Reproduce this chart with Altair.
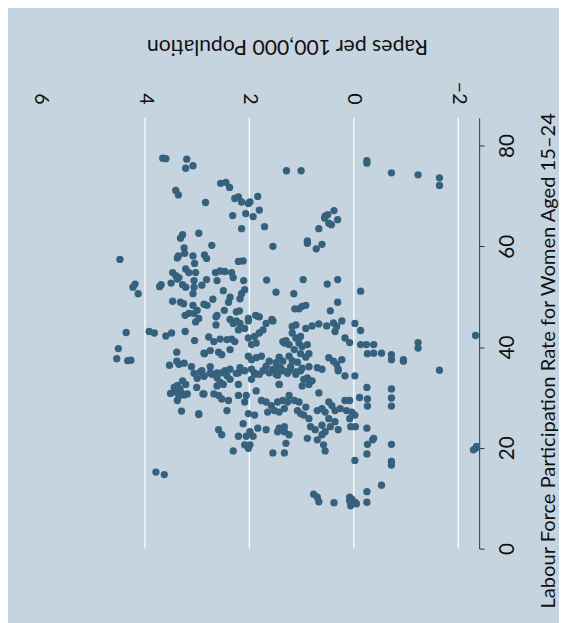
import altair as alt
import pandas as pd

# Each pair: (rapes per 100,000 population, labour force participation rate for women aged 15-24)
upper_cluster = [
    (3.66,77.5),(3.60,77.4),(3.20,77.3),(3.08,76.0),(3.22,75.5),(1.29,75.0),
    (2.55,72.5),(2.45,72.7),(2.38,71.7),(3.41,71.1),(3.36,70.2),(2.84,68.7),
    (2.28,69.5),(2.21,69.8),(2.15,68.8),(2.02,68.5),(1.99,68.8),(1.84,69.9),
    (2.07,66.5),(1.93,65.9),(1.81,67.2),(2.32,66.1),(2.15,63.5),(1.71,63.9),(1.55,60.0),
    (4.48,57.4),(4.19,52.5),(4.23,51.9),(4.13,50.6),
    (3.28,62.3),(3.32,61.6),(2.97,62.6),(3.25,59.7),(3.24,58.6),(2.72,60.2),
    (3.38,57.7),(3.36,58.1),(3.08,58.1),(3.05,56.6),(2.86,58.3),(2.82,57.6),(2.21,57.0),(2.12,57.1),
    (3.47,54.8),(3.41,54.2),(3.35,53.8),(3.22,55.5),(3.16,54.8),(3.03,54.8),
    (2.65,54.8),(2.56,55.1),(2.47,55.0),(2.34,54.8),(2.31,53.8),
    (3.69,52.4),(3.72,52.0),(3.50,52.7),(3.38,53.5),(3.28,52.4),(3.22,51.9),
    (3.06,53.2),(3.06,51.9),(3.08,50.6),(2.82,53.4),(2.91,52.3),(2.62,53.2),(2.11,53.2),(1.67,53.3),
    (2.50,51.2),(2.37,49.9),(2.40,48.9),(2.15,50.6),(2.09,51.4),(2.18,49.6),(1.49,50.9),(1.15,50.6),(1.13,47.6),
    (3.47,49.1),(3.32,48.9),(3.26,48.6),(3.08,48.3),(3.00,47.3),(3.06,46.7),(2.81,48.3),(2.70,49.5),
    (2.48,47.3),(2.25,47.0),(2.19,47.2),(3.23,46.3),(3.16,46.7),(2.64,46.0),
    (2.02,45.7),(1.88,46.3),(1.81,46.0),(1.57,45.5),
]

upper_right = [
    (1.01,75.0),(-0.25,77.0),(-0.25,76.5),(-0.72,74.6),(-1.23,74.2),(-1.64,73.6),(-1.64,72.1),
    (0.55,66.0),(0.50,66.3),(0.38,67.1),(0.31,65.3),(0.48,64.6),(0.43,64.3),(0.56,65.6),
    (0.67,63.5),(0.89,61.1),(0.89,60.6),(0.72,59.5),(0.61,60.4),
    (0.97,53.4),(0.51,52.5),(0.31,53.4),(-0.13,51.1),
]

left_group = [
    (4.36,42.9),(4.51,39.7),(4.54,37.7),(4.33,37.3),(4.27,37.4),
    (3.92,43.1),(3.82,42.8),(3.60,42.2),(3.49,42.8),(3.23,43.1),(3.05,41.3),
    (3.03,45.0),(2.97,45.7),
    (3.39,39.0),(3.53,36.4),(3.39,37.2),(3.35,36.6),(3.25,36.8),
    (3.11,36.1),(3.06,34.8),(2.94,35.1),(3.00,33.8),(2.87,34.2),(2.86,38.7),
    (3.51,30.8),(3.44,32.0),(3.38,32.4),(3.33,31.7),(3.28,33.3),(3.22,32.6),(3.35,30.3),(3.25,30.5),
    (3.19,30.7),(3.38,29.4),(3.41,31.1),(3.31,31.0),
    (3.30,27.3),(3.01,32.0),(2.89,30.7),(2.97,26.6),(3.79,15.2),(3.63,14.7),
]

middle_upper = [
    (2.87,48.5),(2.62,46.3),(2.64,44.4),
    (2.37,45.5),(2.25,45.2),(2.18,44.7),(2.31,44.7),(2.21,43.4),(2.09,43.7),(2.02,45.2),
    (1.84,46.1),(1.68,44.7),(1.55,45.2),(1.74,43.4),(1.81,42.8),(1.90,42.1),(1.36,41.1),(1.33,40.8),
    (2.78,42.0),(2.68,41.1),(2.56,41.6),(2.43,41.5),(2.34,41.6),(2.28,41.1),
    (2.02,41.8),(1.96,40.5),(1.87,40.8),
    (2.87,38.8),(2.75,39.3),(2.59,39.0),(2.53,38.5),(2.37,39.5),
    (2.02,38.2),(1.96,37.5),(1.87,37.9),
    (1.77,38.2),(1.62,37.2),(1.49,36.9),(1.36,37.2),(1.68,36.2),(1.43,35.9),(1.55,35.6),
    (2.91,35.3),(2.75,36.1),(2.72,34.6),(2.62,34.9),(2.47,35.3),(2.37,35.6),(2.21,34.9),(2.18,35.9),
    (1.96,35.6),(1.90,34.6),(1.81,34.6),
]

centre_upper = [
    (1.05,47.6),(0.99,48.1),(0.92,48.3),(0.31,48.9),(0.45,47.2),
    (1.18,44.1),(1.11,44.4),(0.92,43.7),(0.80,44.2),(0.67,44.6),(0.52,44.2),(0.39,44.8),(0.33,44.1),
    (0.23,45.2),(0.36,43.1),
    (-0.02,44.7),(-0.13,43.3),(0.17,41.8),(0.08,40.9),(-0.13,40.5),
    (1.30,41.3),(1.18,42.8),(1.11,41.8),(1.02,42.1),(1.05,40.8),(1.24,40.5),(1.14,39.5),(0.99,40.1),(0.89,40.5),
    (1.43,38.0),(1.24,38.2),(1.18,37.3),(1.02,38.7),(0.92,38.0),(0.86,38.7),(1.08,37.0),(1.21,36.1),
    (1.40,35.8),(1.46,34.4),(1.27,34.8),(0.99,35.8),(0.86,36.1),(1.11,35.1),
    (0.70,35.9),(0.61,35.6),(0.48,37.9),(0.39,37.2),(0.33,36.6),(0.23,37.5),(0.30,35.6),(0.17,34.3),(-0.02,34.3),
]

middle_lower = [
    (2.87,34.3),(2.75,34.9),(2.62,33.9),(2.53,34.9),(2.43,34.3),(2.37,33.6),(2.56,33.0),(2.62,32.3),
    (2.50,32.6),(2.25,34.8),(2.21,32.6),
    (2.87,30.7),(2.68,30.7),(2.59,30.4),(2.53,29.7),(2.40,29.4),(2.21,30.4),(2.06,30.4),(2.09,29.1),
    (2.09,35.3),(1.96,33.6),(1.90,34.9),(1.74,35.3),(1.62,34.9),(1.49,34.6),(1.43,32.6),(1.87,31.3),
    (1.77,29.4),(1.68,29.1),(1.58,28.4),(1.46,29.1),(1.36,29.4),(1.65,27.1),(1.52,27.4),(1.43,27.1),
    (2.97,26.8),(2.43,27.4),
    (2.02,26.8),(1.90,26.5),(2.12,24.8),(1.99,23.2),(1.84,23.9),(1.68,23.6),(1.46,23.2),(1.33,24.2),
    (2.59,23.6),(2.53,22.6),(2.21,22.3),(2.06,22.3),(1.93,22.3),
    (2.09,20.6),(2.02,19.9),(1.99,20.6),(2.31,19.4),(1.55,19.0),(1.33,19.0),
]

centre_lower = [
    (1.46,35.3),(1.36,35.3),(1.24,35.3),(1.11,34.6),(1.02,35.3),(0.96,33.6),(0.89,33.9),(0.80,33.3),
    (0.86,32.6),(0.99,32.3),(1.43,32.6),(0.30,35.3),(0.67,30.9),
    (1.24,30.4),(1.27,29.1),(1.14,29.4),(1.33,27.8),(1.05,29.1),(1.08,27.4),(1.02,26.8),(0.96,26.5),
    (0.86,25.8),(0.92,28.1),
    (0.70,27.4),(0.61,27.8),(0.48,29.1),(0.42,28.4),(0.55,27.1),(0.36,27.4),(0.26,27.8),(0.17,29.4),
    (0.08,29.4),(0.14,27.4),(0.04,27.1),(0.08,25.8),(-0.02,26.5),(-0.11,30.0),
    (0.48,25.8),(0.36,25.2),(0.30,23.6),(0.45,24.2),(0.61,24.5),(0.55,23.2),(0.74,23.6),(0.61,22.6),(0.83,24.2),
    (1.43,23.9),(1.33,23.2),(1.24,22.6),(1.30,20.9),(0.89,21.9),(0.70,21.6),(0.58,20.6),(0.55,19.4),
    (-0.02,17.5),
]

right_group = [
    (-0.24,40.5),(-0.38,40.5),(-0.26,38.7),(-0.38,38.8),(-0.53,38.8),(-0.72,38.5),(-0.72,37.5),
    (-0.95,37.5),(-0.95,37.2),(-1.23,40.9),(-1.23,39.8),
    (-1.64,35.4),(-0.25,32.0),(-0.72,31.7),(-0.26,29.7),(-0.26,28.3),(-0.72,29.9),(-0.72,28.3),
    (-0.03,24.2),(0.06,24.2),(-0.25,23.9),(-0.36,21.6),(-0.38,21.9),(-0.26,20.7),(-0.72,20.7),(-0.25,18.8),
    (-0.72,17.3),(-0.72,16.6),(-0.53,12.6),(-0.25,11.3),(0.77,10.8),(0.70,10.2),(0.08,10.2),
    (-0.25,9.2),(0.67,9.3),(0.38,9.1),(0.08,9.5),(0.06,8.5),(-0.02,9.2),(-0.05,8.9),(0.04,9.8),
    (-2.33,42.3),(-2.33,19.9),(-2.29,19.6),(-2.35,20.3),
]

x_tick_values = [-2, 0, 2, 4, 6]
x_grid_values = [-2, 0, 2, 4]
y_tick_values = [0, 20, 40, 60, 80]

all_points = (upper_cluster + upper_right + left_group + middle_upper + centre_upper
              + middle_lower + centre_lower + right_group)
df = pd.DataFrame(all_points, columns=["rapes", "lfp"])
grid_df = pd.DataFrame({"rapes": x_grid_values})

BG = "#c6d4df"
DOT = "#36617d"
FONT = "Lato"

x_scale = alt.Scale(domain=[-2.4, 6], reverse=True, nice=False, zero=False)
y_scale = alt.Scale(domain=[0, 85.5], nice=False, zero=False)

x_axis = alt.Axis(
    orient="top", values=x_tick_values, grid=False, domain=False, ticks=False, tickSize=0,
    labelAngle=90, labelAlign="right", labelBaseline="middle", labelPadding=14,
    labelFlush=False, labelOverlap=False, labelFont=FONT, labelFontSize=20, labelColor="#111",
    title="Rapes per 100,000 Population", titleAngle=180, titleBaseline="top", titleAlign="center",
    titleX=250, titleY=-63, titleFont=FONT, titleFontSize=21.5, titleFontWeight="normal", titleColor="#111",
)
y_axis = alt.Axis(
    orient="right", values=y_tick_values, grid=False, domain=True, domainColor="#333", domainWidth=1,
    ticks=True, tickSize=5, tickColor="#333",
    labelAngle=270, labelAlign="center", labelBaseline="top", labelPadding=13,
    labelFlush=False, labelOverlap=False, labelFont=FONT, labelFontSize=21, labelColor="#111",
    title="Labour Force Participation Rate for Women Aged 15\u201324", titleAngle=270, titleBaseline="top",
    titleAlign="center", titleX=60, titleY=246, titleFont=FONT, titleFontSize=20.4,
    titleFontWeight="normal", titleColor="#111",
)

grid = alt.Chart(grid_df).mark_rule(color="white", strokeWidth=1.3).encode(
    x=alt.X("rapes:Q", scale=x_scale, axis=x_axis)
)
points = alt.Chart(df).mark_circle(size=55, color=DOT, opacity=1).encode(
    x=alt.X("rapes:Q", scale=x_scale, axis=x_axis),
    y=alt.Y("lfp:Q", scale=y_scale, axis=y_axis),
)

chart = alt.layer(grid, points).properties(
    width=445, height=437,
    autosize=alt.AutoSizeParams(type="none"),
    padding={"left": 33, "top": 107, "right": 81, "bottom": 71},
    background=BG,
).configure_view(stroke=None, fill=BG)

chart.save("out.html", embed_options={"renderer": "svg", "actions": False})
